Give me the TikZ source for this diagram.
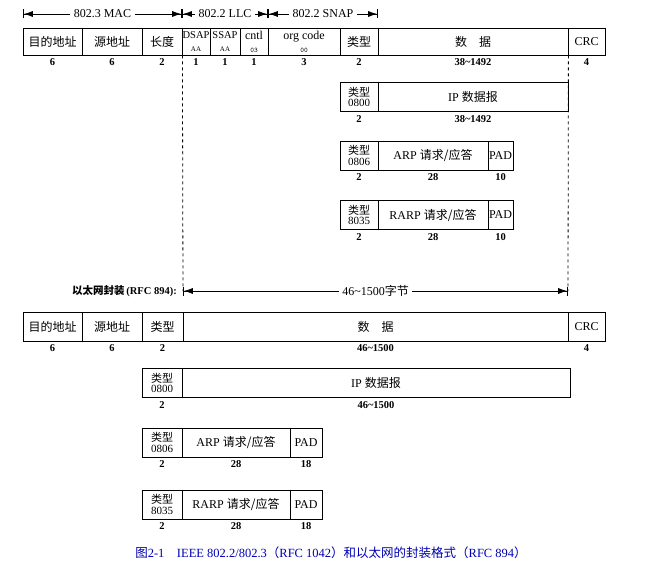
\documentclass[tikz,border=0pt]{standalone}
\usepackage{fontspec}
\setmainfont{Liberation Serif}
\newfontfamily\cjk{Noto Sans CJK SC}
\usetikzlibrary{arrows.meta}
\newcommand{\zh}[1]{{\cjk #1}}
\tikzset{
  fld/.style={draw,thick,inner sep=0pt,font=\fontsize{12}{13}\selectfont,align=center},
  two/.style={font=\fontsize{11}{10.5}\selectfont},
  sz/.style={font=\fontsize{10.5}{11}\selectfont\bfseries,inner sep=1pt},
  hdr/.style={fill=white,font=\fontsize{12}{13}\selectfont},
  span/.style={{Bar[width=9pt]Latex[length=9pt,width=6pt]}-{Latex[length=9pt,width=6pt]Bar[width=9pt]},thick},
  guide/.style={dashed,thick}
}
\begin{document}
\begin{tikzpicture}[x=1pt,y=-1pt]
  \useasboundingbox (0,0) rectangle (663,572);
  % header spans
  \coordinate (m0) at (23,14); \coordinate (m1) at (182,14);
  \coordinate (m2) at (268,14); \coordinate (m3) at (378,14);
  \draw[span] (m0) -- node[hdr]{802.3 MAC} (m1);
  \draw[span] (m1) -- node[hdr]{802.2 LLC} (m2);
  \draw[span] (m2) -- node[hdr]{802.2 SNAP} (m3);
  % 802.2/802.3 frame
  \foreach \a/\b/\t/\s in {23/82/\zh{目的地址}/6,82/142/\zh{源地址}/6,142/182/\zh{长度}/2,
      182/210/{\fontsize{10.5}{11}\selectfont DSAP}\\{\scriptsize AA}/1,210/240/{\fontsize{10.5}{11}\selectfont SSAP}\\{\scriptsize AA}/1,
      240/268/cntl\\{\scriptsize\ttfamily 03}/1,268/340/org code\\{\scriptsize\ttfamily 00}/3,
      340/378/\zh{类型}/2,378/568/\zh{数\quad 据}/38\char`~1492,568/605/CRC/4}
  {
    \node[fld,minimum width={(\b-\a)*1pt},minimum height=27pt] (a\a) at ({(\a+\b)/2},41.5) {\t};
    \node[sz] (as\a) at ({(\a+\b)/2},62) {\s};
  }
  % sub frames (SNAP)
  \foreach \y/\ty/\bd/\pa/\sa/\sb/\sc [count=\i] in {
      97/0800/{IP \zh{数据报}}/568/2/38\char`~1492/,
      155.5/0806/{ARP \zh{请求/应答}}/488/2/28/10,
      215/8035/{RARP \zh{请求/应答}}/488/2/28/10}
  {
    \node[fld,two,minimum width=38pt,minimum height=29pt] (s\i t) at (359,\y) {\zh{类型}\\\ty};
    \node[fld,minimum width={(\pa-378)*1pt},minimum height=29pt] (s\i d) at ({(378+\pa)/2},\y) {\bd};
    \node[sz] (s\i st) at (359,\y+22) {\sa};
    \node[sz] (s\i sd) at ({(378+\pa)/2},\y+22) {\sb};
    \ifnum\i>1
      \node[fld,minimum width=25pt,minimum height=29pt] (s\i p) at (500.5,\y) {PAD};
      \node[sz] (s\i sp) at (500.5,\y+22) {\sc};
    \fi
  }
  % Ethernet encapsulation
  \node[sz,anchor=east] (enc) at (178,291) {\zh{以太网封装}\,(RFC 894):};
  \coordinate (e0) at (183,291); \coordinate (e1) at (568,291);
  \draw[span] (e0) -- node[hdr]{46\char`~1500\zh{字节}} (e1);
  \foreach \a/\b/\t/\s in {23/82/\zh{目的地址}/6,82/142/\zh{源地址}/6,142/183/\zh{类型}/2,
      183/568/\zh{数\quad 据}/46\char`~1500,568/605/CRC/4}
  {
    \node[fld,minimum width={(\b-\a)*1pt},minimum height=29pt] (b\a) at ({(\a+\b)/2},326.5) {\t};
    \node[sz] (bs\a) at ({(\a+\b)/2},348) {\s};
  }
  \foreach \y/\ty/\bd/\pa/\sa/\sb/\sc [count=\i] in {
      383/0800/{IP \zh{数据报}}/570/2/46\char`~1500/,
      442.5/0806/{ARP \zh{请求/应答}}/290/2/28/18,
      504.5/8035/{RARP \zh{请求/应答}}/290/2/28/18}
  {
    \node[fld,two,minimum width=40pt,minimum height=29pt] (e\i t) at (162,\y) {\zh{类型}\\\ty};
    \node[fld,minimum width={(\pa-182)*1pt},minimum height=29pt] (e\i d) at ({(182+\pa)/2},\y) {\bd};
    \node[sz] (e\i st) at (162,\y+22) {\sa};
    \node[sz] (e\i sd) at ({(182+\pa)/2},\y+22) {\sb};
    \ifnum\i>1
      \node[fld,minimum width=32pt,minimum height=29pt] (e\i p) at (306,\y) {PAD};
      \node[sz] (e\i sp) at (306,\y+22) {\sc};
    \fi
  }
  % guides
  \draw[guide] (a142.south east) -- (e0);
  \draw[guide] (a378.south east) -- (e1);
  \node[text=blue!70!black,font=\fontsize{12.5}{13}\selectfont] (cap) at (331,553)
    {\zh{图}2-1\quad IEEE 802.2/802.3\zh{（}RFC 1042\zh{）和以太网的封装格式（}RFC 894\zh{）}};
\end{tikzpicture}
\end{document}
